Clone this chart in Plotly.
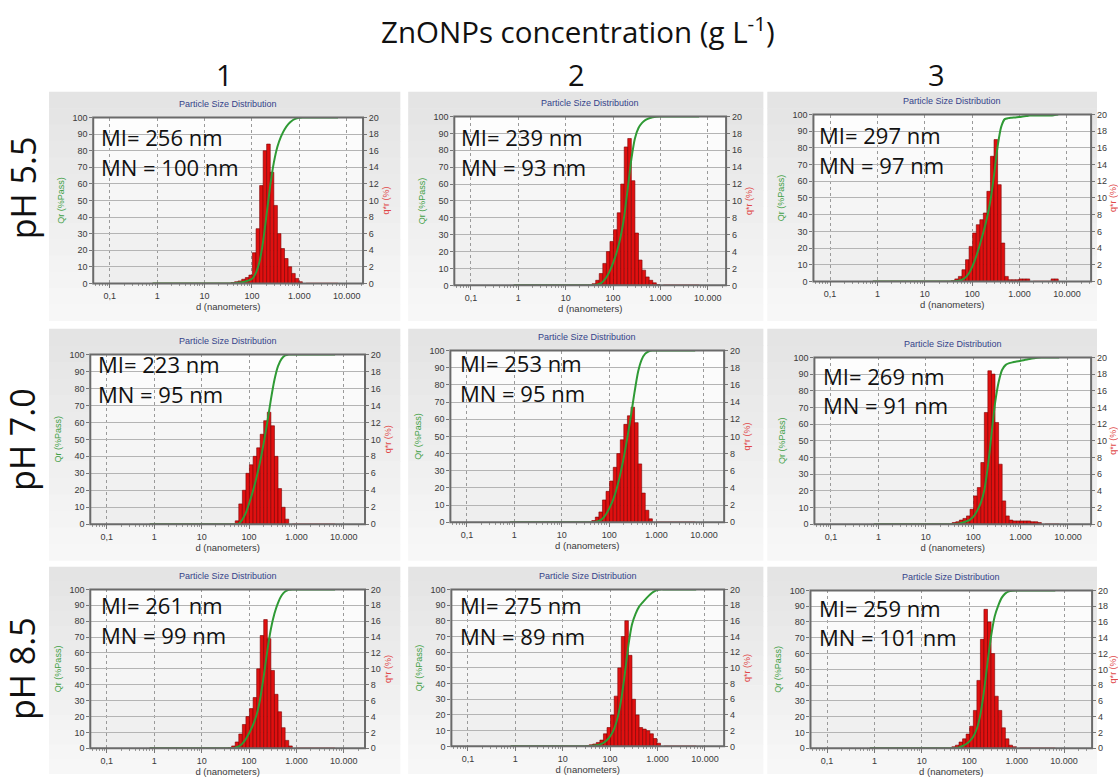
import math
import plotly.graph_objects as go

W, H = 1118, 779

# Nanotrac channel upper edges (nm)
channels_nm = [0.8, 0.95, 1.13, 1.35, 1.6, 1.9, 2.27, 2.7, 3.2, 3.8,
               4.5, 5.4, 6.4, 7.6, 9.0, 10.7, 12.8, 15.2, 18.1, 21.5,
               25.6, 30.4, 36.1, 43.0, 51.1, 60.8, 72.3, 86.0, 102, 122,
               145, 172, 204, 243, 289, 344, 409, 486, 578, 688,
               818, 972, 1156, 1375, 1635, 1944, 2312, 2750, 3270, 3890,
               4620, 5500, 6540]
# the q*r lists below start at this channel; smaller channels are empty
first_channel_nm = 36.1

# q*r (%) per channel, from 36.1 nm up to 6540 nm
q_ph55_1 = [0, 0.1, 0.2, 0.3, 0.5, 0.7, 1.0, 3.7, 6.6, 11.8, 16.0, 16.8, 13.4, 9.4, 6.0, 4.2,
            3.0, 2.0, 1.2, 0.6, 0.2, 0, 0, 0, 0, 0, 0, 0, 0, 0, 0]
q_ph55_2 = [0, 0.2, 0.6, 1.4, 2.6, 4.0, 5.2, 6.6, 8.6, 12.0, 16.4, 17.4, 12.4, 6.2, 3.0, 1.8,
            1.0, 0.6, 0.3, 0.1, 0, 0, 0, 0, 0, 0, 0, 0, 0, 0, 0]
q_ph55_3 = [0, 0.1, 0.3, 0.6, 1.4, 2.6, 4.2, 5.8, 6.8, 7.4, 8.2, 10.8, 15.0, 17.0, 11.6, 4.6,
            0.6, 0.2, 0.2, 0.2, 0.3, 0.3, 0.3, 0, 0, 0, 0, 0, 0, 0.3, 0.3]
q_ph70_1 = [0, 0, 0, 0.4, 2.4, 4.0, 6.0, 7.0, 8.0, 9.0, 10.6, 12.2, 13.2, 11.6, 8.0, 4.2,
            2.0, 0.6, 0, 0, 0, 0, 0, 0, 0, 0, 0, 0, 0, 0, 0]
q_ph70_2 = [0, 0, 0.2, 0.6, 1.2, 2.6, 3.6, 4.8, 6.4, 8.0, 9.6, 11.4, 12.4, 13.4, 11.6, 6.8,
            3.4, 1.4, 0.4, 0, 0, 0, 0, 0, 0, 0, 0, 0, 0, 0, 0]
q_ph70_3 = [0, 0.2, 0.3, 0.5, 0.7, 1.0, 1.8, 3.4, 4.4, 7.4, 13.4, 18.4, 18.0, 12.2, 7.2, 2.8,
            1.0, 0.5, 0.4, 0.4, 0.4, 0.4, 0.4, 0.3, 0.3, 0.2, 0, 0, 0, 0, 0]
q_ph85_1 = [0, 0.1, 0.3, 0.8, 1.8, 3.0, 4.0, 5.0, 6.4, 10.0, 14.2, 16.2, 13.8, 9.8, 6.8, 4.6,
            2.6, 1.0, 0.3, 0, 0, 0, 0, 0, 0, 0, 0, 0, 0, 0, 0]
q_ph85_2 = [0.1, 0.2, 0.3, 0.5, 0.8, 1.6, 2.4, 4.0, 6.4, 10.0, 14.0, 16.0, 11.6, 6.0, 4.0, 2.4,
            2.2, 2.0, 1.6, 1.0, 0.4, 0, 0, 0, 0, 0, 0, 0, 0, 0, 0]
q_ph85_3 = [0, 0, 0.2, 0.4, 0.8, 1.2, 1.8, 2.8, 4.8, 8.6, 13.8, 17.6, 16.0, 12.0, 6.6, 4.8,
            2.6, 1.2, 0.4, 0.2, 0, 0, 0, 0, 0, 0, 0, 0, 0, 0, 0]

# mean intensity / mean number diameters (nm), row by row
mi_nm = [256, 239, 297, 223, 253, 269, 261, 275, 259]
mn_nm = [100, 93, 97, 95, 95, 91, 99, 89, 101]

ph_labels = ["pH 5.5", "pH 7.0", "pH 8.5"]
conc_labels = ["1", "2", "3"]
x_tick_nm = [0.1, 1, 10, 100, 1000, 10000]
x_tick_text = ["0,1", "1", "10", "100", "1.000", "10.000"]
qr_ticks = list(range(0, 101, 10))
qstar_ticks = list(range(0, 21, 2))

panels_q = [q_ph55_1, q_ph55_2, q_ph55_3,
            q_ph70_1, q_ph70_2, q_ph70_3,
            q_ph85_1, q_ph85_2, q_ph85_3]

# ---------------- layout geometry (pixels) ----------------
plot_px = [(95, 114, 370, 282), (463, 113, 740, 284), (829, 111, 1112, 280),
           (92, 354, 372, 526), (459, 350, 738, 524), (830, 357, 1112, 526),
           (92, 592, 372, 753), (460, 592, 738, 751), (826, 593, 1113, 753)]
label_px = [(101, 134, 164), (468, 134, 164), (833, 132, 162),
            (98, 364, 394), (467, 363, 393), (837, 376, 405),
            (101, 608, 638), (467, 608, 639), (833, 611, 640)]
card_cols_px = [(50, 408), (416, 778), (782, 1118)]
card_rows_px = [(88, 320), (328, 563), (569, 779)]
PX_PER_DECADE = 48.3
X_LEFT_LOG = -1.35


def px(x):
    return x / W


def py(y):
    return 1 - y / H


def mix(c1, c2, t):
    return "rgb(%d,%d,%d)" % tuple(round(a + (b - a) * t) for a, b in zip(c1, c2))


shapes = []
annotations = []


def gradient(x0, y0, x1, y1, top, bottom, n=14):
    for j in range(n):
        ya = y0 + (y1 - y0) * j / n
        yb = y0 + (y1 - y0) * (j + 1) / n + 0.6
        shapes.append(dict(type="rect", xref="paper", yref="paper",
                           x0=px(x0), x1=px(x1), y0=py(min(yb, y1)), y1=py(ya),
                           fillcolor=mix(top, bottom, j / (n - 1)),
                           line=dict(width=0), layer="below"))


# grey cards behind each chart
for (ry0, ry1) in card_rows_px:
    for (cx0, cx1) in card_cols_px:
        gradient(cx0, ry0, cx1, ry1, (228, 228, 228), (247, 247, 247))

fig = go.Figure()
layout = dict(width=W, height=H, margin=dict(l=0, r=0, t=0, b=0),
              paper_bgcolor="white", plot_bgcolor="rgba(0,0,0,0)",
              showlegend=False, font=dict(family="Liberation Sans", color="#333"))

log_ch = [math.log10(c) for c in channels_nm]
i0 = channels_nm.index(first_channel_nm)
minor_vals = [math.log10(m * 10 ** e) for e in range(-2, 5) for m in range(2, 10)]
tick_font = dict(family="Liberation Sans", size=9, color="#3a3a3a")

for i, q in enumerate(panels_q):
    k = i + 1
    x0, y0, x1, y1 = plot_px[i]
    full_q = [0.0] * i0 + list(q)

    # plot area background and frame
    gradient(x0, y0, x1, y1, (253, 253, 253), (238, 238, 238), n=10)
    shapes.append(dict(type="rect", xref="paper", yref="paper",
                       x0=px(x0), x1=px(x1), y0=py(y1), y1=py(y0),
                       line=dict(color="#6a6a6a", width=2), layer="above"))

    xs, ws, hs = [], [], []
    for j in range(1, len(channels_nm)):
        if full_q[j] > 0:
            xs.append((log_ch[j - 1] + log_ch[j]) / 2)
            ws.append(log_ch[j] - log_ch[j - 1])
            hs.append(full_q[j])

    total = sum(full_q)
    cum, run = [], 0.0
    for v in full_q:
        run += v
        cum.append(100 * run / total)

    xa = "x" if k == 1 else "x%d" % k
    yq = "y%d" % (2 * k - 1) if k > 1 else "y"
    yQ = "y%d" % (2 * k)

    fig.add_trace(go.Scatter(x=log_ch, y=[0 if v == 0 else None for v in full_q],
                             mode="lines", line=dict(color="#e8403a", width=1.5),
                             xaxis=xa, yaxis=yq, hoverinfo="skip"))
    fig.add_trace(go.Bar(x=xs, y=hs, width=ws, xaxis=xa, yaxis=yq,
                         marker=dict(color="#e01010", line=dict(color="#7a0000", width=0.6))))
    fig.add_trace(go.Scatter(x=log_ch, y=cum, mode="lines",
                             line=dict(color="#2f9a35", width=2, shape="spline", smoothing=0.6),
                             xaxis=xa, yaxis=yQ, hoverinfo="skip"))

    xr = [X_LEFT_LOG, X_LEFT_LOG + (x1 - x0) / PX_PER_DECADE]
    xkey = "xaxis" if k == 1 else "xaxis%d" % k
    layout[xkey] = dict(domain=[px(x0), px(x1)], anchor=yq, range=xr,
                        tickmode="array", tickvals=[math.log10(v) for v in x_tick_nm],
                        ticktext=x_tick_text, tickfont=tick_font,
                        ticks="outside", ticklen=4, tickcolor="#777",
                        showgrid=True, gridcolor="#9a9a9a", griddash="dot", gridwidth=1,
                        zeroline=False, showline=False,
                        minor=dict(tickmode="array", tickvals=minor_vals, ticks="outside",
                                   ticklen=2, tickcolor="#999", showgrid=False),
                        title=dict(text="d (nanometers)", standoff=1,
                                   font=dict(family="Liberation Sans", size=9.5, color="#3a3a3a")))
    qkey = "yaxis" if k == 1 else "yaxis%d" % (2 * k - 1)
    layout[qkey] = dict(domain=[py(y1), py(y0)], anchor=xa, side="right", range=[0, 20],
                        tickmode="array", tickvals=qstar_ticks, tickfont=tick_font,
                        ticks="outside", ticklen=3, tickcolor="#777",
                        showgrid=False, zeroline=False, showline=False,
                        title=dict(text="q*r (%)", standoff=4,
                                   font=dict(family="Liberation Sans", size=9, color="#e04848")))
    layout["yaxis%d" % (2 * k)] = dict(domain=[py(y1), py(y0)], anchor=xa, side="left",
                                       overlaying=yq, range=[0, 100],
                                       tickmode="array", tickvals=qr_ticks, tickfont=tick_font,
                                       ticks="outside", ticklen=3, tickcolor="#777",
                                       showgrid=True, gridcolor="#b4b4b4", gridwidth=1,
                                       zeroline=False, showline=False,
                                       title=dict(text="Qr (%Pass)", standoff=6,
                                                  font=dict(family="Liberation Sans", size=9,
                                                            color="#3f9f45")))

    annotations.append(dict(text="Particle Size Distribution", xref="paper", yref="paper",
                            x=px((x0 + x1) / 2), y=py(y0 - 14), showarrow=False,
                            xanchor="center", yanchor="middle",
                            font=dict(family="Liberation Sans", size=9, color="#34438a")))
    lx, lmi, lmn = label_px[i]
    annotations.append(dict(text="MI= %d nm" % mi_nm[i], xref="paper", yref="paper",
                            x=px(lx), y=py(lmi), showarrow=False, xanchor="left",
                            yanchor="middle", font=dict(family="Open Sans", size=22, color="#111")))
    annotations.append(dict(text="MN = %d nm" % mn_nm[i], xref="paper", yref="paper",
                            x=px(lx), y=py(lmn), showarrow=False, xanchor="left",
                            yanchor="middle", font=dict(family="Open Sans", size=22, color="#111")))

# figure headings
annotations.append(dict(text="ZnONPs concentration (g L<sup>-1</sup>)", xref="paper", yref="paper",
                        x=px(589), y=py(26), showarrow=False, xanchor="center", yanchor="middle",
                        font=dict(family="Open Sans", size=29.5, color="#111")))
for c, cx in zip(conc_labels, [229, 588, 954]):
    annotations.append(dict(text=c, xref="paper", yref="paper", x=px(cx), y=py(70),
                            showarrow=False, xanchor="center", yanchor="middle",
                            font=dict(family="Open Sans", size=29, color="#111")))
for lab, cy in zip(ph_labels, [185, 440, 672]):
    annotations.append(dict(text=lab, xref="paper", yref="paper", x=px(23), y=py(cy),
                            showarrow=False, xanchor="center", yanchor="middle", textangle=-90,
                            font=dict(family="Open Sans", size=34, color="#111")))

layout["shapes"] = shapes
layout["annotations"] = annotations
fig.update_layout(**layout)
fig.write_html("out.html")
